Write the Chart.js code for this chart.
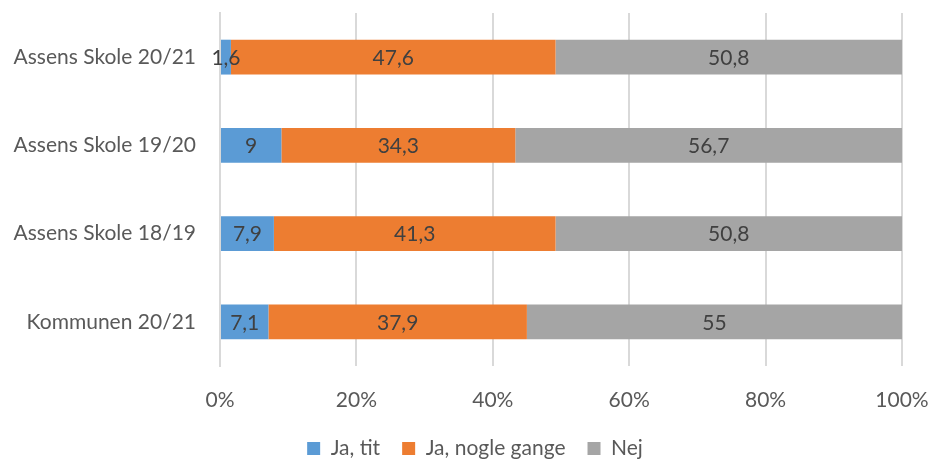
<!DOCTYPE html>
<html>
<head>
<meta charset="utf-8">
<script src="https://cdn.jsdelivr.net/npm/chart.js@4"></script>
<style>
  html, body { margin: 0; padding: 0; background: #fff; }
  #wrap { width: 933px; height: 465px; }
</style>
</head>
<body>
<div id="wrap"><canvas id="chart" width="933" height="465"></canvas></div>
<script>
// categories, top to bottom
const categories = ['Assens Skole 20/21', 'Assens Skole 19/20', 'Assens Skole 18/19', 'Kommunen 20/21'];
const jaTit = [1.6, 9, 7.9, 7.1];
const jaNogleGange = [47.6, 34.3, 41.3, 37.9];
const nej = [50.8, 56.7, 50.8, 55];
const xTicks = [0, 20, 40, 60, 80, 100];

const FONT = 'Lato, "Open Sans", sans-serif';
const FS = 21;

// draws the value in the middle of each bar segment
const barLabels = {
  id: 'barLabels',
  afterDatasetsDraw(chart){
    const ctx = chart.ctx;
    ctx.save();
    ctx.font = FS + 'px ' + FONT;
    ctx.fillStyle = '#404040';
    ctx.textAlign = 'center';
    ctx.textBaseline = 'middle';
    chart.data.datasets.forEach((ds, i) => {
      chart.getDatasetMeta(i).data.forEach((bar, j) => {
        const txt = String(ds.data[j]).replace('.', ',');
        ctx.fillText(txt, (bar.x + bar.base) / 2, bar.y + 1);
      });
    });
    ctx.restore();
  }
};

// the legend sits a bit right of the canvas centre in the original
const legendShift = {
  id: 'legendShift',
  afterLayout(chart){
    chart.legend.left += 24;
    chart.legend.right += 24;
  }
};

new Chart(document.getElementById('chart'), {
  type: 'bar',
  data: {
    labels: categories,
    datasets: [
      { label: 'Ja, tit', data: jaTit, backgroundColor: '#5B9BD5' },
      { label: 'Ja, nogle gange', data: jaNogleGange, backgroundColor: '#ED7D31' },
      { label: 'Nej', data: nej, backgroundColor: '#A5A5A5' }
    ]
  },
  options: {
    indexAxis: 'y',
    responsive: false,
    animation: false,
    devicePixelRatio: 1,
    layout: { padding: { top: 13, right: 31, bottom: -4, left: 0 } },
    datasets: { bar: { barPercentage: 0.395, categoryPercentage: 1, borderWidth: 0 } },
    plugins: {
      legend: {
        position: 'bottom',
        labels: { font: { family: FONT, size: FS }, color: '#595959', boxWidth: 13, boxHeight: 13, padding: 22 }
      },
      tooltip: { enabled: false }
    },
    scales: {
      x: {
        stacked: true, min: 0, max: 100,
        afterBuildTicks: s => { s.ticks = xTicks.map(v => ({ value: v })); },
        afterFit: s => { s.height = 50; s.paddingLeft = 0; s.paddingRight = 0; },
        grid: { color: '#d9d9d9', lineWidth: 2, drawTicks: false },
        border: { display: false },
        ticks: { callback: v => v + '%', font: { family: FONT, size: FS }, color: '#595959', padding: 22 }
      },
      y: {
        stacked: true,
        afterFit: s => { s.width = 220; s.paddingTop = 0; s.paddingBottom = 0; },
        grid: { display: false },
        border: { color: '#d9d9d9', width: 2 },
        ticks: { font: { family: FONT, size: FS }, color: '#595959', padding: 16 }
      }
    }
  },
  plugins: [barLabels, legendShift]
});
</script>
</body>
</html>
